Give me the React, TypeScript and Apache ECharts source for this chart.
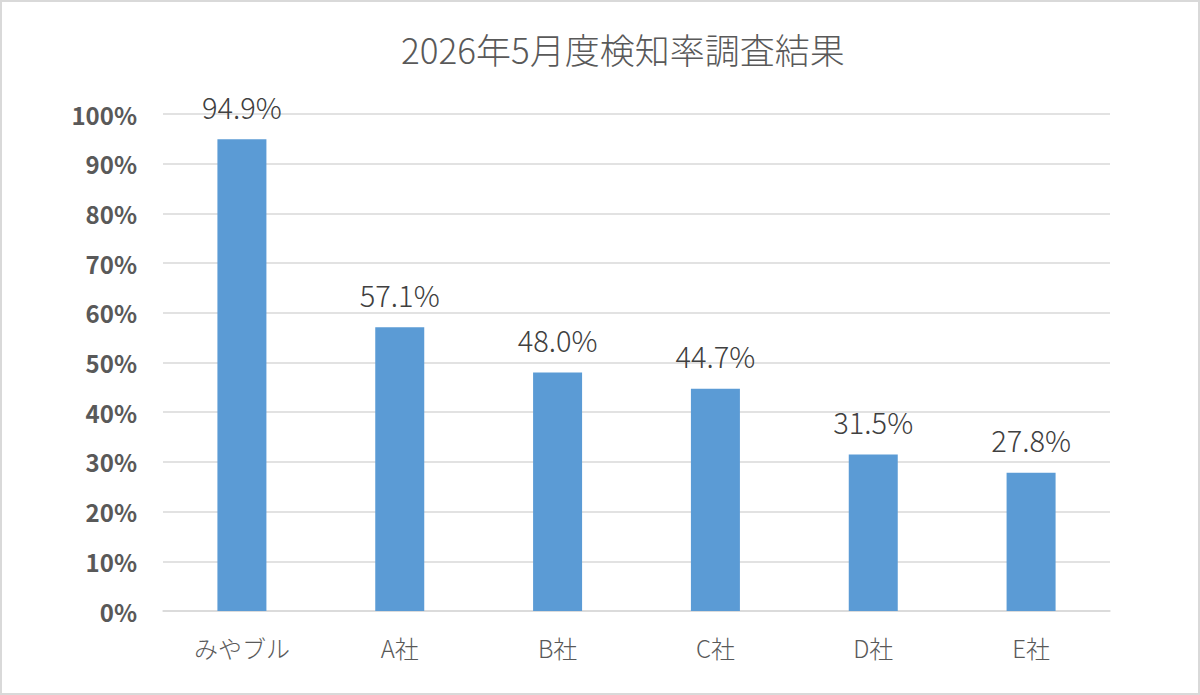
import React, { useEffect, useRef } from "react";
import * as echarts from "echarts";

const titleText = "2026年5月度検知率調査結果";
const categories = ["みやブル", "A社", "B社", "C社", "D社", "E社"];
const rates = [94.9, 57.1, 48.0, 44.7, 31.5, 27.8];

const FONT = '"Noto Sans CJK JP", "Noto Sans", sans-serif';

export default function App() {
  const ref = useRef<HTMLDivElement>(null);
  useEffect(() => {
    if (!ref.current) return;
    const chart = echarts.init(ref.current, undefined, { renderer: "svg" });
    chart.setOption({
      animation: false,
      backgroundColor: "#ffffff",
      textStyle: { fontFamily: FONT },
      title: {
        text: titleText,
        left: 396,
        top: 26,
        textStyle: { fontFamily: FONT, fontSize: 35, fontWeight: 300, color: "#595959" },
      },
      graphic: [
        {
          type: "rect",
          shape: { x: 1, y: 1, width: 1198, height: 693 },
          style: { fill: "none", stroke: "#d9d9d9", lineWidth: 2 },
          silent: true,
        },
      ],
      grid: { left: 163, right: 90, top: 114, bottom: 84 },
      xAxis: {
        type: "category",
        data: categories,
        axisLine: { lineStyle: { color: "#d9d9d9", width: 1.5 } },
        axisTick: { show: false },
        axisLabel: { fontFamily: FONT, fontSize: 24, fontWeight: 300, color: "#595959", margin: 24 },
      },
      yAxis: {
        type: "value",
        min: 0,
        max: 100,
        interval: 10,
        axisLine: { show: false },
        axisTick: { show: false },
        splitLine: { lineStyle: { color: "#d9d9d9", width: 1.5 } },
        axisLabel: {
          fontFamily: FONT,
          fontSize: 24,
          fontWeight: "bold",
          color: "#595959",
          margin: 26,
          formatter: (v: number) => `${v}%`,
        },
      },
      series: [
        {
          type: "bar",
          data: rates,
          barWidth: 49,
          itemStyle: { color: "#5b9bd5" },
          label: {
            show: true,
            position: "top",
            distance: 19,
            fontFamily: FONT,
            fontSize: 29,
            fontWeight: 300,
            color: "#404040",
            formatter: (p: any) => `${Number(p.value).toFixed(1)}%`,
          },
        },
      ],
    });
    return () => chart.dispose();
  }, []);
  return (
    <div
      ref={ref}
      style={{ position: "fixed", left: 0, top: 0, width: 1200, height: 695 }}
    />
  );
}
